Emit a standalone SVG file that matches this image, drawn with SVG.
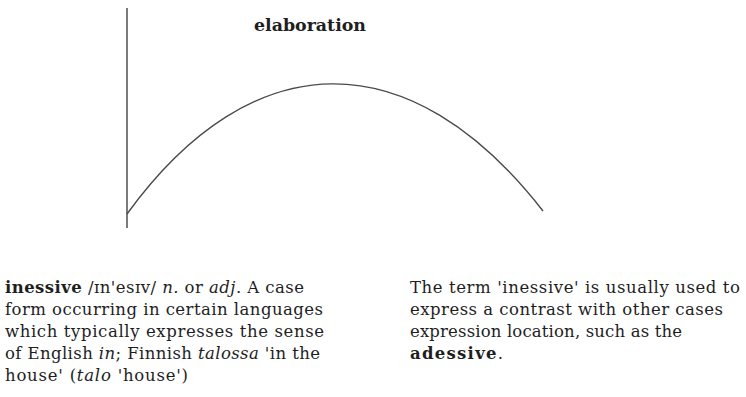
<svg xmlns="http://www.w3.org/2000/svg" width="746" height="397" viewBox="0 0 746 397">
  <style>
    .txt { font-family: "DejaVu Serif", "Liberation Serif", serif; font-size: 16.5px; fill: #1e1e1e; }
    .b { font-weight: bold; }
    .i { font-style: italic; }
    .axis { stroke: #5a5a5a; stroke-width: 1.6; fill: none; }
    .arc { stroke: #4a4a4a; stroke-width: 1.4; fill: none; }
  </style>
  <rect width="746" height="397" fill="#ffffff"/>

  <!-- axis and elaboration curve -->
  <g id="connectors">
    <line class="axis" x1="127" y1="8" x2="127" y2="228"/>
    <path class="arc" d="M127,214 C252,42 410,40 543,211"/>
  </g>

  <g id="title">
    <text class="txt b" x="254" y="31" textLength="112" lengthAdjust="spacingAndGlyphs">elaboration</text>
  </g>

  <!-- dictionary definition -->
  <g id="definition">
    <text class="txt" x="5" y="293" textLength="299" lengthAdjust="spacing"><tspan class="b">inessive</tspan> /ɪn'esɪv/ <tspan class="i">n.</tspan> or <tspan class="i">adj</tspan>. A case</text>
    <text class="txt" x="5" y="315" textLength="318" lengthAdjust="spacing">form occurring in certain languages</text>
    <text class="txt" x="5" y="337" textLength="319" lengthAdjust="spacing">which typically expresses the sense</text>
    <text class="txt" x="5" y="359" textLength="315" lengthAdjust="spacing">of English <tspan class="i">in</tspan>; Finnish <tspan class="i">talossa</tspan> 'in the</text>
    <text class="txt" x="5" y="381" textLength="183" lengthAdjust="spacing">house' (<tspan class="i">talo</tspan> 'house')</text>
  </g>

  <!-- usage note -->
  <g id="note">
    <text class="txt" x="410" y="293" textLength="330" lengthAdjust="spacing">The term 'inessive' is usually used to</text>
    <text class="txt" x="410" y="315" textLength="313" lengthAdjust="spacing">express a contrast with other cases</text>
    <text class="txt" x="410" y="337" textLength="272" lengthAdjust="spacing">expression location, such as the</text>
    <text class="txt" x="410" y="359" textLength="93" lengthAdjust="spacing"><tspan class="b">adessive</tspan>.</text>
  </g>
</svg>
